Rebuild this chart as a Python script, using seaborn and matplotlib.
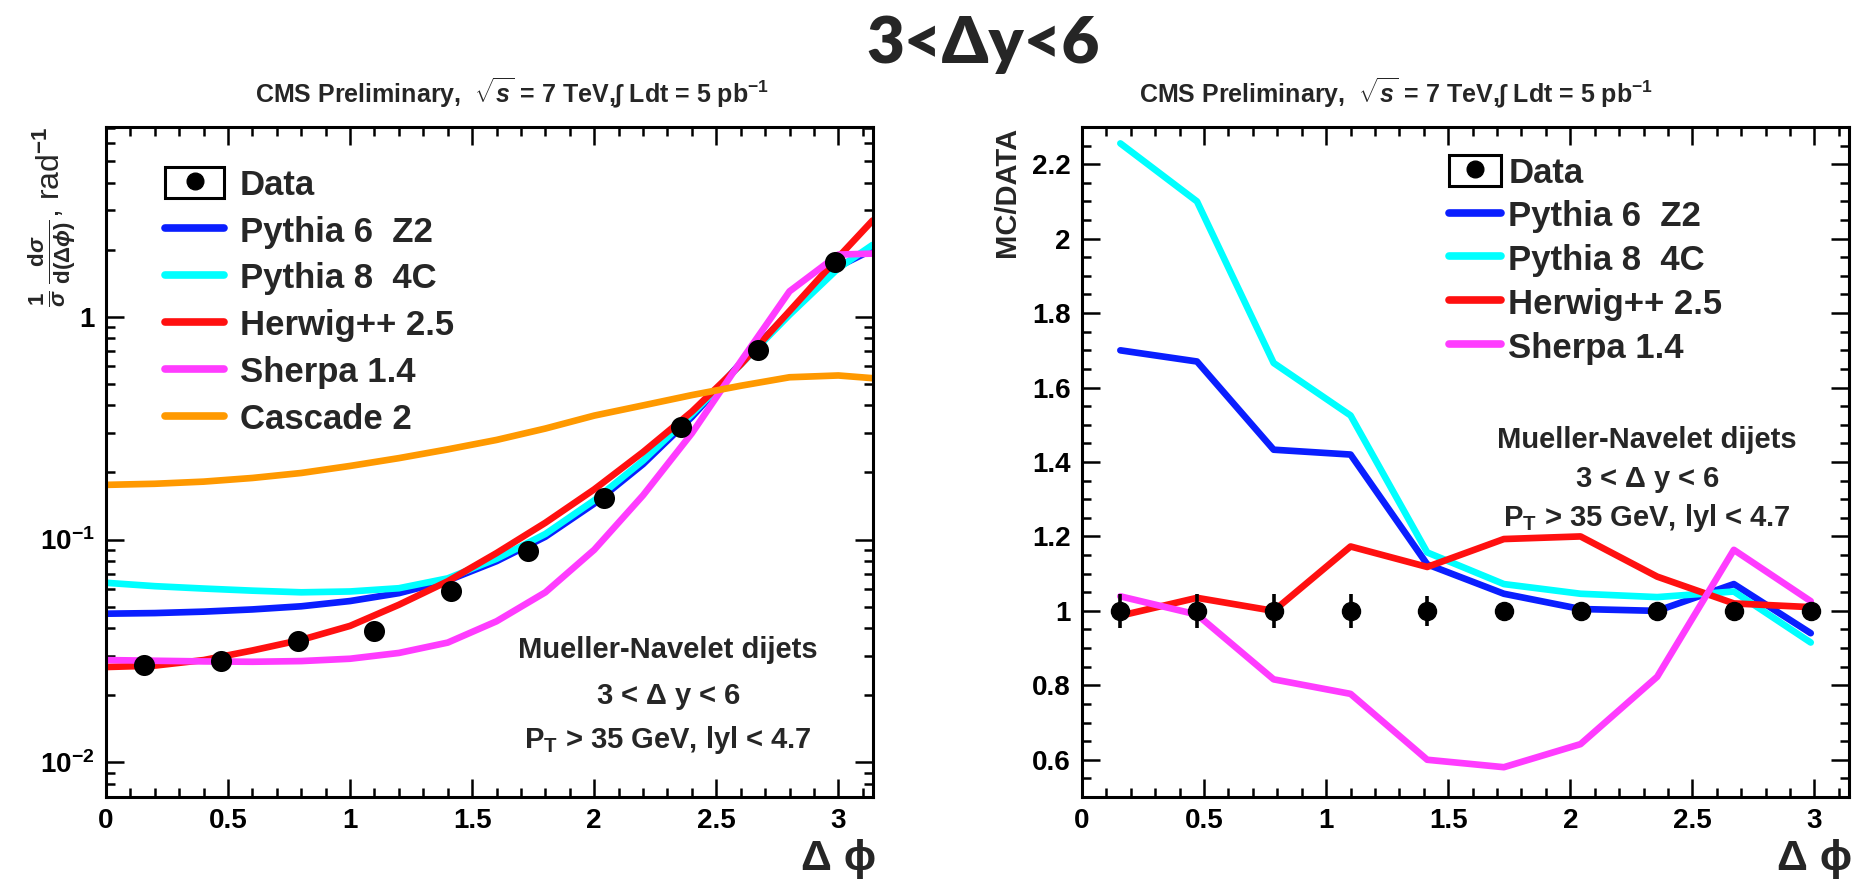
import numpy as np
import pandas as pd
import matplotlib
matplotlib.use('Agg')
import matplotlib.pyplot as plt
import seaborn as sns
from matplotlib.ticker import MultipleLocator, FuncFormatter, LogLocator, NullFormatter, FixedLocator
from matplotlib.patches import Rectangle
from matplotlib.lines import Line2D
from matplotlib.legend_handler import HandlerTuple

# ---------------- data ----------------
models = ['Pythia 6  Z2', 'Pythia 8  4C', 'Herwig++ 2.5', 'Sherpa 1.4', 'Cascade 2']
colors = ['#0a1eff', '#00ffff', '#ff1010', '#ff3cff', '#ff9900']

# left panel: normalised cross section vs delta phi (smooth MC curves)
phi_curve = [0.0, 0.2, 0.4, 0.6, 0.8, 1.0, 1.2, 1.4, 1.6, 1.8, 2.0, 2.2, 2.4, 2.6, 2.8, 3.0, 3.14]
p6_curve = [0.0465, 0.0468, 0.0475, 0.0486, 0.0502, 0.053, 0.0575, 0.0655, 0.080, 0.103, 0.145, 0.218, 0.355, 0.62, 1.05, 1.68, 2.0]
p8_curve = [0.064, 0.0618, 0.0603, 0.059, 0.058, 0.0585, 0.0605, 0.067, 0.082, 0.106, 0.150, 0.226, 0.365, 0.61, 1.02, 1.65, 2.1]
hw_curve = [0.0268, 0.0272, 0.0288, 0.0318, 0.0355, 0.041, 0.051, 0.065, 0.087, 0.119, 0.168, 0.247, 0.375, 0.61, 1.06, 1.85, 2.7]
sh_curve = [0.0288, 0.0286, 0.0284, 0.0283, 0.0285, 0.0292, 0.031, 0.0345, 0.043, 0.058, 0.090, 0.158, 0.30, 0.63, 1.30, 1.90, 1.92]
cs_curve = [0.176, 0.178, 0.182, 0.189, 0.199, 0.214, 0.232, 0.254, 0.28, 0.315, 0.36, 0.40, 0.445, 0.49, 0.535, 0.545, 0.53]

phi_data = [0.157, 0.471, 0.785, 1.100, 1.414, 1.728, 2.042, 2.356, 2.670, 2.985]
xsec_data = [0.0275, 0.0286, 0.035, 0.0388, 0.0586, 0.0885, 0.154, 0.32, 0.71, 1.76]

# right panel: MC / DATA ratios
ratio_p6 = [1.70, 1.67, 1.433, 1.42, 1.125, 1.046, 1.005, 1.0, 1.072, 0.94]
ratio_p8 = [2.256, 2.10, 1.666, 1.525, 1.157, 1.072, 1.046, 1.037, 1.052, 0.915]
ratio_hw = [0.987, 1.035, 1.0, 1.173, 1.118, 1.193, 1.2, 1.092, 1.02, 1.01]
ratio_sh = [1.039, 0.99, 0.816, 0.777, 0.60, 0.58, 0.642, 0.823, 1.164, 1.026]
ratio_data = [1.0] * 10
ratio_err = [0.045, 0.045, 0.045, 0.045, 0.04, 0.02, 0.02, 0.02, 0.02, 0.02]

# ---------------- style ----------------
sns.set_theme(style='white')
plt.rcParams['font.family'] = ['Liberation Sans', 'DejaVu Sans']
plt.rcParams['mathtext.fontset'] = 'custom'
plt.rcParams['mathtext.rm'] = 'Liberation Sans:bold'
plt.rcParams['mathtext.it'] = 'Liberation Sans:italic:bold'
plt.rcParams['mathtext.bf'] = 'Liberation Sans:bold'
plt.rcParams['mathtext.sf'] = 'Liberation Sans:bold'
plt.rcParams['axes.edgecolor'] = 'black'
plt.rcParams['axes.linewidth'] = 2.2

palette = dict(zip(models, colors))
LW = 4.8

fig = plt.figure(figsize=(18.72, 8.82), dpi=100)
axL = fig.add_axes([0.0566, 0.0964, 0.4097, 0.7596])
axR = fig.add_axes([0.578, 0.0964, 0.4097, 0.7596])


def style_ticks(ax):
    ax.tick_params(which='both', direction='in', top=True, right=True,
                   bottom=True, left=True, colors='black', width=1.8)
    ax.tick_params(which='major', length=13, labelsize=20, pad=8)
    ax.tick_params(which='minor', length=6.5)
    for lab in ax.get_xticklabels() + ax.get_yticklabels():
        lab.set_fontweight('bold')
    for s in ax.spines.values():
        s.set_visible(True)
        s.set_color('black')
        s.set_linewidth(2.2)


# ---------------- left panel ----------------
dfL = pd.DataFrame({
    'phi': phi_curve * 5,
    'val': p6_curve + p8_curve + hw_curve + sh_curve + cs_curve,
    'model': np.repeat(models, len(phi_curve)),
})
sns.lineplot(data=dfL, x='phi', y='val', hue='model', hue_order=models,
             palette=palette, linewidth=LW, estimator=None, sort=False,
             legend=False, ax=axL)
sns.scatterplot(x=phi_data, y=xsec_data, color='black', s=230,
                edgecolor='black', linewidth=0, ax=axL, zorder=6)
axL.set_yscale('log')
axL.set_xlim(0, np.pi)
axL.set_ylim(0.0070, 7.1)
axL.xaxis.set_major_locator(FixedLocator([0, 0.5, 1, 1.5, 2, 2.5, 3]))
axL.xaxis.set_major_formatter(FuncFormatter(lambda v, p: '%g' % v))
axL.xaxis.set_minor_locator(MultipleLocator(0.1))
axL.yaxis.set_major_locator(FixedLocator([0.01, 0.1, 1]))
ylab = {0.01: r'$10^{-2}$', 0.1: r'$10^{-1}$', 1: '1'}
axL.yaxis.set_major_formatter(FuncFormatter(lambda v, p: ylab.get(round(v, 4), '')))
axL.yaxis.set_minor_locator(LogLocator(base=10, subs=np.arange(2, 10)))
axL.yaxis.set_minor_formatter(NullFormatter())
axL.set_xlabel('')
axL.set_ylabel(r'$\frac{1}{\sigma}\,\frac{\mathrm{d}\sigma}{\mathrm{d}(\Delta\phi)}$, rad$^{-1}$',
               loc='top', fontsize=23)
axL.yaxis.set_label_coords(-0.036, 1.0)
style_ticks(axL)

# ---------------- right panel ----------------
dfR = pd.DataFrame({
    'phi': phi_data * 4,
    'val': ratio_p6 + ratio_p8 + ratio_hw + ratio_sh,
    'model': np.repeat(models[:4], len(phi_data)),
})
sns.lineplot(data=dfR, x='phi', y='val', hue='model', hue_order=models[:4],
             palette=palette, linewidth=LW, estimator=None, sort=False,
             legend=False, ax=axR)
axR.errorbar(phi_data, ratio_data, yerr=ratio_err, fmt='o', color='black',
             ms=13, elinewidth=2.6, capsize=0, zorder=6)
axR.set_xlim(0, np.pi)
axR.set_ylim(0.5, 2.3)
axR.xaxis.set_major_locator(FixedLocator([0, 0.5, 1, 1.5, 2, 2.5, 3]))
axR.xaxis.set_major_formatter(FuncFormatter(lambda v, p: '%g' % v))
axR.xaxis.set_minor_locator(MultipleLocator(0.1))
axR.yaxis.set_major_locator(MultipleLocator(0.2))
axR.yaxis.set_major_formatter(FuncFormatter(lambda v, p: '%g' % round(v, 2)))
axR.yaxis.set_minor_locator(MultipleLocator(0.05))
axR.set_xlabel('')
axR.set_ylabel('MC/DATA', loc='top', fontsize=21, fontweight='bold', labelpad=8)
style_ticks(axR)

# ---------------- legends ----------------
def data_handle():
    return (Rectangle((0, 0), 1, 1, facecolor='none', edgecolor='black', linewidth=2.2),
            Line2D([], [], marker='o', color='black', linestyle='none', markersize=12))

hL = [data_handle()] + [Line2D([], [], color=c, linewidth=5.5) for c in colors]
axL.legend(hL, ['Data'] + models, handler_map={tuple: HandlerTuple(ndivide=1)},
           loc='upper left', bbox_to_anchor=(0.077, 0.94), frameon=False,
           prop={'weight': 'bold', 'size': 25}, handlelength=1.7, handleheight=1.0,
           handletextpad=0.45, labelspacing=0.36, borderpad=0, borderaxespad=0)

hR = [data_handle()] + [Line2D([], [], color=c, linewidth=5.5) for c in colors[:4]]
axR.legend(hR, ['Data'] + models[:4], handler_map={tuple: HandlerTuple(ndivide=1)},
           loc='upper left', bbox_to_anchor=(0.478, 0.958), frameon=False,
           prop={'weight': 'bold', 'size': 25}, handlelength=1.5, handleheight=1.0,
           handletextpad=0.22, labelspacing=0.27, borderpad=0, borderaxespad=0)

# ---------------- annotations ----------------
ann = ['Mueller-Navelet dijets', r'3 < $\Delta$ y < 6', r'P$_{\mathrm{T}}$ > 35 GeV, lyl < 4.7']
for ax, xc, ys in [(axL, 0.733, [0.219, 0.149, 0.085]), (axR, 0.737, [0.533, 0.473, 0.417])]:
    for t, y in zip(ann, ys):
        ax.text(xc, y, t, transform=ax.transAxes, ha='center', va='center',
                fontsize=21, fontweight='bold')
    ax.text(1.004, -0.062, 'Δ ϕ', transform=ax.transAxes, ha='right', va='top',
            fontsize=31, fontweight='bold', family=['Liberation Sans', 'DejaVu Sans'])

header = r'CMS Preliminary,  $\sqrt{s}$ = 7 TeV,$\int$ Ldt = 5 pb$^{-1}$'
axL.text(0.529, 1.052, header, transform=axL.transAxes, ha='center', va='center',
         fontsize=18, fontweight='bold')
axR.text(0.41, 1.052, header, transform=axR.transAxes, ha='center', va='center',
         fontsize=18, fontweight='bold')

fig.text(0.525, 0.949, '3<Δy<6', ha='center', va='center', fontsize=47,
         fontweight='heavy', family=['Lato', 'DejaVu Sans'])

fig.savefig('out.png', dpi=100)
